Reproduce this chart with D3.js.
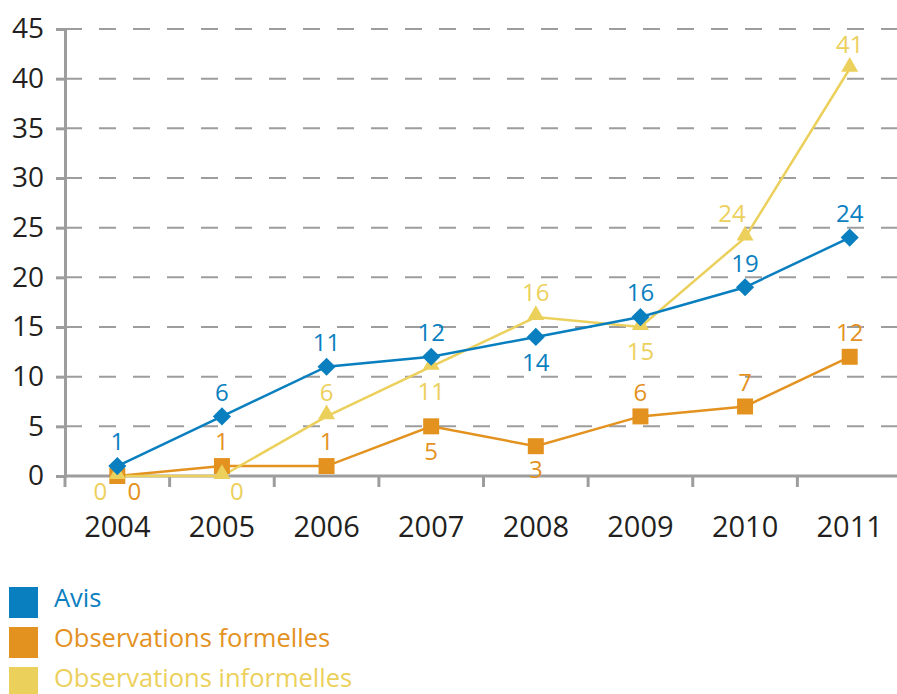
<!DOCTYPE html>
<html><head><meta charset="utf-8">
<script src="https://cdn.jsdelivr.net/npm/d3@7"></script>
<style>body{margin:0;background:#fff}svg{display:block}text{font-family:"Open Sans",sans-serif}</style>
</head><body><svg id="c" width="897" height="694"></svg>
<script>
const years = ["2004","2005","2006","2007","2008","2009","2010","2011"];
const avis = [1,6,11,12,14,16,19,24];
const formelles = [0,1,1,5,3,6,7,12];
const informelles = [0,0,6,11,16,15,24,41];
const yTicks = [0,5,10,15,20,25,30,35,40,45];
const seriesNames = ["Avis","Observations formelles","Observations informelles"];
const colors = ["#0a7fbf","#e3921f","#ecd05c"];
// label placement: dx, dy
const avisLbl = [[0,-24],[0,-24],[0,-24],[0,-24],[0,26],[0,-24],[0,-24],[0,-24]];
const formLbl = [[17,16],[0,-24],[0,-24],[0,25],[0,23],[0,-24],[0,-24],[0,-24]];
const infLbl = [[-17,16],[15,16],[0,-24],[0,25],[0,-24],[0,25],[-13,-24],[0,-24]];

const svg = d3.select("#c");
const x = d3.scaleBand().domain(years).range([65, 902]);
const y = d3.scaleLinear().domain([0,45]).range([476, 29]);

svg.append("g").selectAll("line").data(yTicks.filter(d=>d>0)).join("line")
  .attr("x1",65).attr("x2",897).attr("y1",d=>y(d)).attr("y2",d=>y(d))
  .attr("stroke","#9d9d9d").attr("stroke-width",2).attr("stroke-dasharray","17,17");

const ya = svg.append("g").attr("transform","translate(65,0)")
  .call(d3.axisLeft(y).tickValues(yTicks).tickSize(9).tickPadding(12));
ya.select(".domain").attr("stroke","#9d9d9d").attr("stroke-width",3);
ya.selectAll(".tick line").attr("stroke","#9d9d9d").attr("stroke-width",3);
ya.selectAll("text").attr("font-size",28).attr("fill","#231f20").attr("font-family","'Open Sans',sans-serif");

const xa = svg.append("g").attr("transform","translate(0,476)")
  .call(d3.axisBottom(x).tickSize(0).tickPadding(40));
xa.select(".domain").attr("stroke","#9d9d9d").attr("stroke-width",3).attr("d","M65,0H897");
xa.selectAll("text").attr("font-size",29).attr("fill","#231f20").attr("font-family","'Open Sans',sans-serif");
svg.append("g").selectAll("line").data(years).join("line")
  .attr("x1",d=>x(d)).attr("x2",d=>x(d)).attr("y1",476).attr("y2",487)
  .attr("stroke","#9d9d9d").attr("stroke-width",3);

const cx = d => x(d) + x.bandwidth()/2;
const line = d3.line().x(d=>cx(d[0])).y(d=>y(d[1]));
const allSeries = [avis, formelles, informelles];
const shapes = [d3.symbolDiamond2, d3.symbolSquare, d3.symbolTriangle];
const sizes = [210, 256, 125];
const lbls = [avisLbl, formLbl, infLbl];

const order = [1,2,0];
order.forEach(i=>{
  const data = years.map((yr,j)=>[yr, allSeries[i][j]]);
  svg.append("path").datum(data).attr("d",line).attr("fill","none")
    .attr("stroke",colors[i]).attr("stroke-width",2.5);
});
order.forEach(i=>{
  const data = years.map((yr,j)=>[yr, allSeries[i][j]]);
  svg.append("g").selectAll("path").data(data).join("path")
    .attr("d", d3.symbol().type(shapes[i]).size(sizes[i]))
    .attr("transform", d=>`translate(${cx(d[0])},${y(d[1]) + (i===2?-2:0)})`)
    .attr("fill",colors[i]);
});
order.forEach(i=>{
  const data = years.map((yr,j)=>[yr, allSeries[i][j], lbls[i][j]]);
  svg.append("g").selectAll("text").data(data).join("text")
    .attr("x", d=>cx(d[0]) + d[2][0])
    .attr("y", d=>y(d[1]) + d[2][1])
    .attr("dy","0.35em").attr("text-anchor","middle")
    .attr("font-size",24).attr("fill",colors[i]).text(d=>d[1]);
});

const lg = svg.append("g");
seriesNames.forEach((n,i)=>{
  lg.append("rect").attr("x",9).attr("y",587+i*40).attr("width",29).attr("height",31).attr("fill",colors[i]);
  lg.append("text").attr("x",54).attr("y",607+i*40)
    .attr("font-size",25.5).attr("fill",colors[i]).text(n);
});
</script></body></html>
